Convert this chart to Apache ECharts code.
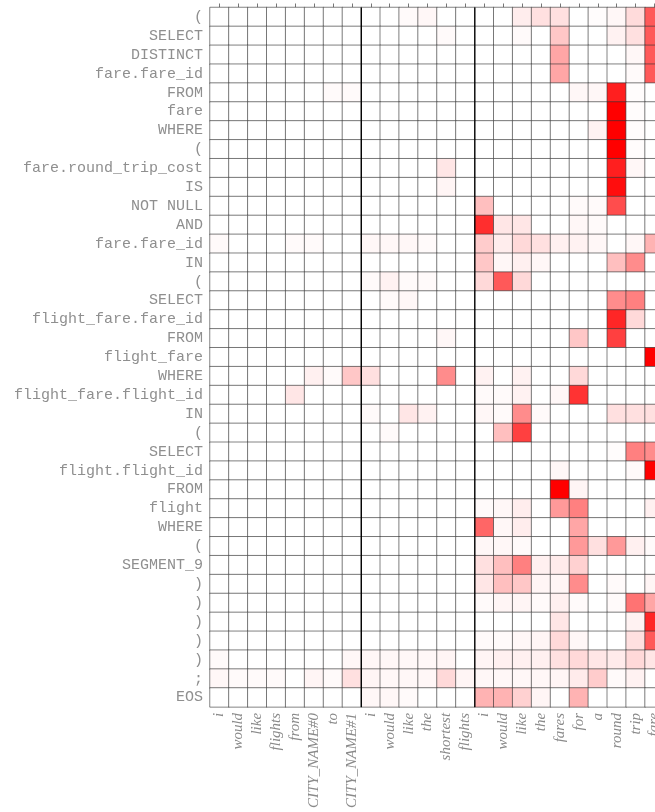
<!DOCTYPE html>
<html>
<head>
<meta charset="utf-8">
<script src="https://cdn.jsdelivr.net/npm/echarts@6/dist/echarts.min.js"></script>
<style>
html,body{margin:0;padding:0;background:#fff;}
#chart{width:655px;height:812px;}
</style>
</head>
<body>
<div id="chart"></div>
<script>
// Source words (x axis), three sentences
const words = ['i','would','like','flights','from','CITY_NAME#0','to','CITY_NAME#1',
  'i','would','like','the','shortest','flights',
  'i','would','like','the','fares','for','a','round','trip','fare'];
// sentence boundaries (index of first word of each new sentence)
const sentenceBreaks = [8, 14];
// SQL tokens (y axis)
const sqlTokens = ['(','SELECT','DISTINCT','fare.fare_id','FROM','fare','WHERE','(',
  'fare.round_trip_cost','IS','NOT NULL','AND','fare.fare_id','IN','(','SELECT',
  'flight_fare.fare_id','FROM','flight_fare','WHERE','flight_fare.flight_id','IN','(',
  'SELECT','flight.flight_id','FROM','flight','WHERE','(','SEGMENT_9',')',')',')',')',')',';','EOS'];
// attention weights, one row per SQL token, one column per word
const weights = [
 [0,0,0,0,0,0,0,0, 0,0,0.02,0.03,0,0, 0,0,0.07,0.12,0.12,0,0.01,0.03,0.14,0.65],
 [0,0,0,0,0,0,0,0, 0,0,0,0,0.02,0, 0,0,0.02,0,0.22,0,0,0.05,0.12,0.65],
 [0,0,0,0,0,0,0,0, 0,0,0,0,0,0, 0,0,0,0,0.35,0,0,0,0.03,0.65],
 [0,0,0,0,0,0,0,0, 0,0,0,0,0,0, 0,0,0,0,0.35,0,0,0,0.02,0.65],
 [0,0,0,0,0,0,0.02,0.02, 0,0,0,0,0,0, 0,0,0,0,0,0.03,0.03,0.88,0.01,0],
 [0,0,0,0,0,0,0,0, 0,0,0,0,0,0, 0,0,0,0,0,0,0,1.0,0.01,0],
 [0,0,0,0,0,0,0,0, 0,0,0,0,0,0, 0,0,0,0,0,0,0.05,1.0,0.01,0],
 [0,0,0,0,0,0,0,0, 0,0,0,0,0,0, 0,0,0,0,0,0,0,1.0,0.01,0],
 [0,0,0,0,0,0,0,0, 0,0,0,0,0.1,0, 0,0,0,0,0,0,0,0.88,0.03,0],
 [0,0,0,0,0,0,0,0, 0,0,0,0,0.04,0, 0,0,0,0,0,0,0,0.95,0,0],
 [0,0,0,0,0,0,0,0, 0,0,0,0,0,0, 0.25,0,0,0,0,0.02,0.02,0.7,0,0],
 [0,0,0,0,0,0,0,0, 0,0,0,0,0,0, 0.82,0.1,0.1,0,0,0.03,0.02,0,0,0],
 [0.02,0,0,0,0.02,0.02,0,0, 0.03,0.03,0.03,0.02,0,0, 0.2,0.07,0.15,0.12,0.06,0.05,0.03,0,0.03,0.3],
 [0,0,0,0,0,0,0,0, 0,0,0,0,0,0, 0.22,0.03,0.06,0.03,0,0,0,0.25,0.45,0],
 [0,0,0,0,0,0,0,0, 0.02,0.05,0.02,0.02,0,0, 0.15,0.65,0.15,0,0,0,0,0,0,0],
 [0,0,0,0,0,0,0,0, 0,0.02,0.03,0,0,0, 0,0,0,0,0,0,0,0.45,0.5,0],
 [0,0,0,0,0,0,0,0, 0,0,0,0,0,0, 0,0,0,0,0,0,0,0.85,0.15,0],
 [0,0,0,0,0,0,0,0, 0,0,0,0,0.03,0, 0,0,0,0,0,0.22,0,0.75,0,0],
 [0,0,0,0,0,0,0,0, 0,0,0,0,0,0, 0,0,0,0,0,0,0,0,0,1.0],
 [0,0,0,0,0,0.06,0.02,0.22, 0.12,0,0,0,0.45,0, 0.05,0,0.05,0,0,0.15,0,0,0,0],
 [0,0,0,0,0.1,0,0,0, 0,0,0,0,0,0, 0.02,0.02,0.05,0,0.03,0.8,0,0,0,0],
 [0,0,0,0,0,0,0,0, 0.02,0,0.1,0.05,0,0, 0.03,0.02,0.45,0.02,0,0,0,0.12,0.12,0.12],
 [0,0,0,0,0,0,0,0, 0,0.02,0,0,0,0, 0,0.25,0.75,0,0,0,0,0,0,0],
 [0,0,0,0,0,0,0,0, 0,0,0,0,0,0, 0,0,0,0,0,0,0,0.01,0.5,0.45],
 [0,0,0,0,0,0,0,0, 0,0,0,0,0,0, 0,0,0,0,0.03,0,0,0,0.02,1.0],
 [0,0,0,0,0,0,0,0, 0,0,0,0,0,0, 0,0,0,0,1.0,0.04,0,0,0,0],
 [0,0,0,0,0,0,0,0, 0,0,0,0,0,0, 0.02,0.03,0.07,0,0.4,0.5,0,0,0,0.06],
 [0,0,0,0,0,0,0,0, 0,0,0,0,0,0, 0.6,0.03,0.07,0,0,0.35,0,0,0,0],
 [0,0,0,0,0,0,0,0, 0,0,0,0,0,0, 0.03,0.03,0.02,0,0,0.4,0.12,0.4,0.06,0.02],
 [0,0,0,0,0,0,0,0, 0,0,0,0,0,0, 0.12,0.25,0.5,0.06,0.08,0.18,0,0,0,0],
 [0,0,0,0,0,0,0,0, 0,0,0,0,0,0, 0.1,0.25,0.22,0.04,0.04,0.45,0,0.02,0,0.04],
 [0,0,0,0,0,0,0,0, 0,0,0,0,0,0, 0.02,0.04,0.04,0.02,0.06,0.02,0,0.02,0.55,0.35],
 [0,0,0,0,0,0,0,0, 0,0,0,0,0,0, 0,0,0,0,0.1,0,0,0,0.05,0.85],
 [0,0,0,0,0,0,0,0, 0,0,0,0,0,0, 0.02,0.02,0.03,0.04,0.15,0.03,0,0,0.12,0.65],
 [0.02,0,0,0,0,0,0,0.03, 0.03,0.03,0.03,0.03,0.04,0, 0.04,0.06,0.06,0.06,0.12,0.15,0.1,0.08,0.15,0.1],
 [0.03,0.02,0.02,0.02,0,0.04,0.02,0.12, 0.04,0.03,0.03,0.03,0.15,0.04, 0.03,0.03,0.03,0.03,0.04,0.08,0.2,0.02,0.05,0],
 [0,0,0,0,0,0,0,0, 0.03,0.03,0.02,0,0,0, 0.3,0.3,0.18,0.04,0,0.3,0,0,0,0]
];

const heatData = [];
weights.forEach((row, r) => row.forEach((v, c) => heatData.push([c, r, v])));

const sepSeries = sentenceBreaks.map(b => ({
  type: 'line', xAxisIndex: 1, yAxisIndex: 1, symbol: 'none', silent: true,
  data: [[b, 0], [b, sqlTokens.length]],
  lineStyle: { color: '#000', width: 1.3 }, z: 10, animation: false
}));

const chart = echarts.init(document.getElementById('chart'));
chart.setOption({
  animation: false,
  backgroundColor: '#ffffff',
  grid: { left: 210, top: 7.5, width: 454, height: 699.4, containLabel: false, outerBoundsMode: 'none' },
  xAxis: [{
    type: 'category', data: words, position: 'bottom',
    axisLine: { show: false },
    axisTick: { show: true, inside: true, alignWithLabel: true, length: 4, lineStyle: { color: '#777' } },
    axisLabel: { rotate: 90, interval: 0, margin: 6, color: '#8a8a8a',
      fontFamily: 'Liberation Serif', fontStyle: 'italic', fontSize: 15 },
    splitLine: { show: false }
  }, {
    type: 'value', min: 0, max: words.length, show: false
  }],
  yAxis: [{
    type: 'category', data: sqlTokens, inverse: true,
    axisLine: { show: false },
    axisTick: { show: true, inside: true, alignWithLabel: true, length: 4, lineStyle: { color: '#777' } },
    axisLabel: { interval: 0, margin: 7, color: '#8f8f8f',
      fontFamily: 'Liberation Mono', fontSize: 15 },
    splitLine: { show: false }
  }, {
    type: 'value', min: 0, max: sqlTokens.length, inverse: true, show: false
  }],
  visualMap: { show: false, min: 0, max: 1, dimension: 2, seriesIndex: 0,
    inRange: { color: ['#ffffff', '#ff0000'] } },
  series: [{
    type: 'heatmap', data: heatData,
    itemStyle: { borderColor: 'rgba(50,50,50,0.6)', borderWidth: 1 },
    emphasis: { disabled: true }
  }].concat(sepSeries)
});
</script>
</body>
</html>
